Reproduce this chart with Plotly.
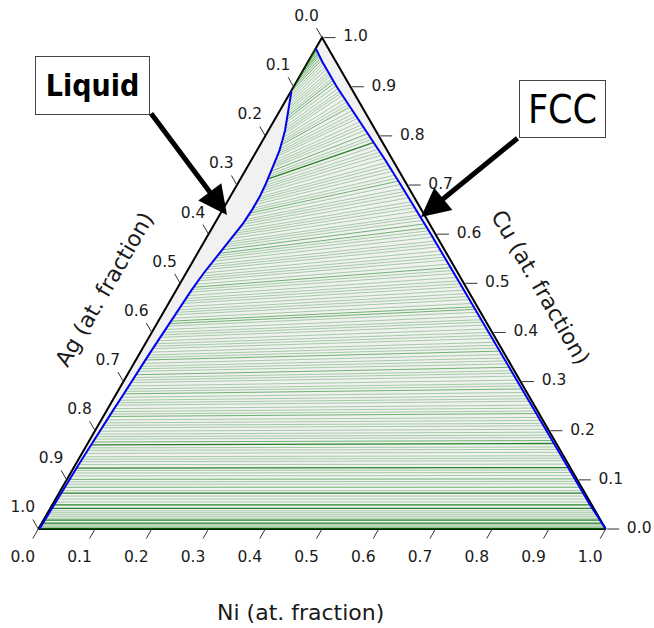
import numpy as np
import plotly.graph_objects as go

# ---------------- data (compositions, at. fraction) ----------------
# Liquid phase boundary: Cu fraction and Ni fraction
liq_cu = [0.890, 0.870, 0.853, 0.830, 0.812, 0.790, 0.770, 0.750, 0.730, 0.700,
          0.676, 0.650, 0.622, 0.600, 0.575, 0.547, 0.520, 0.486, 0.450, 0.425,
          0.400, 0.364, 0.330, 0.303, 0.270, 0.242, 0.210, 0.181, 0.150, 0.120,
          0.090, 0.059, 0.030, 0.000]
liq_ni = [0.001, 0.008, 0.014, 0.022, 0.029, 0.035, 0.040, 0.043, 0.046, 0.050,
          0.052, 0.052, 0.050, 0.046, 0.041, 0.035, 0.031, 0.027, 0.024, 0.022,
          0.020, 0.018, 0.016, 0.015, 0.013, 0.011, 0.009, 0.0076, 0.0065, 0.0053,
          0.0045, 0.0035, 0.0028, 0.002]

# FCC phase boundary: Cu fraction and Ag fraction
fcc_cu = [0.978, 0.950, 0.900, 0.850, 0.800, 0.750, 0.700, 0.650, 0.600, 0.500,
          0.400, 0.300, 0.200, 0.100, 0.050, 0.000]
fcc_ag = [0.022, 0.024, 0.024, 0.020, 0.016, 0.013, 0.011, 0.009, 0.008, 0.007,
          0.006, 0.006, 0.005, 0.004, 0.003, 0.000]

# Tie lines: liquid end (Cu, Ni) and FCC end (Cu, Ag)
tie_liq_cu = [0.974, 0.966, 0.957, 0.948, 0.938, 0.928, 0.918, 0.908, 0.899, 0.892,
              0.884, 0.873, 0.860, 0.850, 0.839, 0.827, 0.814, 0.804, 0.791, 0.781,
              0.768, 0.758, 0.745, 0.735, 0.722, 0.712, 0.699, 0.689, 0.676, 0.666,
              0.653, 0.643, 0.630, 0.620, 0.607, 0.597, 0.584, 0.574, 0.561, 0.551,
              0.538, 0.528, 0.515, 0.505, 0.492, 0.482, 0.469, 0.459, 0.446, 0.436,
              0.423, 0.413, 0.400, 0.390, 0.377, 0.367, 0.354, 0.344, 0.331, 0.321,
              0.308, 0.298, 0.285, 0.275, 0.262, 0.252, 0.239, 0.229, 0.216, 0.206,
              0.193, 0.183, 0.171, 0.160, 0.147, 0.137, 0.124, 0.114, 0.101, 0.091,
              0.078, 0.073, 0.061, 0.049, 0.042, 0.033, 0.025, 0.018, 0.012, 0.006, 0.001,
              0.879, 0.867, 0.855, 0.844, 0.833, 0.820, 0.809, 0.797, 0.786, 0.774,
              0.763, 0.751, 0.740, 0.728, 0.717, 0.705, 0.694, 0.683, 0.671, 0.660,
              0.648, 0.637, 0.625, 0.614, 0.602, 0.591, 0.579, 0.568, 0.556, 0.545,
              0.533, 0.521, 0.510, 0.498, 0.487, 0.475, 0.464, 0.452, 0.441, 0.429,
              0.418, 0.406, 0.395, 0.383, 0.372, 0.360, 0.349, 0.337, 0.326, 0.314,
              0.303, 0.291, 0.280, 0.268, 0.257, 0.245, 0.234, 0.222, 0.211, 0.199,
              0.188, 0.177, 0.165, 0.154, 0.142, 0.131, 0.119, 0.108, 0.096, 0.085,
              0.067, 0.055, 0.037, 0.029, 0.021, 0.009, 0.004]
tie_liq_ni = [0.0, 0.0, 0.0, 0.0, 0.0, 0.0, 0.0, 0.0, 0.0, 0.001,
              0.003, 0.007, 0.011, 0.015, 0.019, 0.023, 0.028, 0.031, 0.035, 0.037,
              0.040, 0.042, 0.044, 0.045, 0.047, 0.048, 0.050, 0.051, 0.052, 0.052,
              0.052, 0.052, 0.051, 0.050, 0.047, 0.045, 0.043, 0.041, 0.038, 0.036,
              0.034, 0.032, 0.030, 0.029, 0.028, 0.027, 0.025, 0.025, 0.024, 0.023,
              0.022, 0.021, 0.020, 0.019, 0.019, 0.018, 0.017, 0.017, 0.016, 0.016,
              0.015, 0.015, 0.014, 0.013, 0.012, 0.012, 0.011, 0.010, 0.010, 0.009,
              0.008, 0.008, 0.007, 0.007, 0.006, 0.006, 0.005, 0.005, 0.005, 0.005,
              0.004, 0.004, 0.004, 0.003, 0.003, 0.003, 0.003, 0.003, 0.002, 0.002, 0.002,
              0.005, 0.009, 0.013, 0.017, 0.021, 0.026, 0.030, 0.033, 0.036, 0.039,
              0.041, 0.043, 0.045, 0.046, 0.048, 0.049, 0.050, 0.051, 0.052, 0.052,
              0.052, 0.051, 0.050, 0.049, 0.046, 0.044, 0.042, 0.040, 0.037, 0.035,
              0.033, 0.031, 0.030, 0.028, 0.027, 0.026, 0.025, 0.024, 0.024, 0.022,
              0.021, 0.021, 0.020, 0.019, 0.018, 0.018, 0.017, 0.016, 0.016, 0.015,
              0.015, 0.014, 0.014, 0.013, 0.012, 0.011, 0.010, 0.010, 0.009, 0.008,
              0.008, 0.007, 0.007, 0.007, 0.006, 0.006, 0.005, 0.005, 0.005, 0.004,
              0.004, 0.003, 0.003, 0.003, 0.003, 0.002, 0.002]
tie_fcc_cu = [0.978, 0.977, 0.975, 0.973, 0.971, 0.968, 0.965, 0.962, 0.958, 0.954,
              0.950, 0.941, 0.930, 0.922, 0.913, 0.902, 0.891, 0.882, 0.869, 0.859,
              0.846, 0.836, 0.823, 0.812, 0.798, 0.787, 0.773, 0.761, 0.746, 0.734,
              0.720, 0.708, 0.693, 0.681, 0.666, 0.654, 0.639, 0.628, 0.613, 0.601,
              0.586, 0.574, 0.559, 0.547, 0.532, 0.520, 0.505, 0.493, 0.479, 0.467,
              0.452, 0.441, 0.426, 0.415, 0.400, 0.388, 0.374, 0.362, 0.348, 0.336,
              0.322, 0.311, 0.296, 0.285, 0.271, 0.260, 0.246, 0.235, 0.221, 0.210,
              0.197, 0.186, 0.174, 0.162, 0.149, 0.139, 0.125, 0.115, 0.102, 0.092,
              0.078, 0.073, 0.061, 0.049, 0.042, 0.033, 0.025, 0.018, 0.012, 0.006, 0.001,
              0.946, 0.936, 0.926, 0.917, 0.908, 0.896, 0.887, 0.875, 0.864, 0.852,
              0.841, 0.829, 0.818, 0.805, 0.793, 0.780, 0.767, 0.754, 0.740, 0.728,
              0.714, 0.701, 0.687, 0.674, 0.660, 0.647, 0.634, 0.621, 0.607, 0.594,
              0.580, 0.566, 0.553, 0.539, 0.526, 0.512, 0.499, 0.486, 0.473, 0.459,
              0.447, 0.433, 0.421, 0.407, 0.394, 0.380, 0.368, 0.355, 0.342, 0.329,
              0.317, 0.303, 0.291, 0.278, 0.265, 0.252, 0.240, 0.227, 0.215, 0.203,
              0.191, 0.180, 0.167, 0.156, 0.144, 0.132, 0.120, 0.109, 0.097, 0.085,
              0.067, 0.055, 0.037, 0.029, 0.021, 0.009, 0.004]
tie_fcc_ag = [0.022, 0.022, 0.023, 0.023, 0.023, 0.023, 0.024, 0.024, 0.024, 0.024,
              0.024, 0.024, 0.024, 0.024, 0.024, 0.024, 0.023, 0.023, 0.022, 0.021,
              0.020, 0.019, 0.018, 0.017, 0.016, 0.015, 0.014, 0.014, 0.013, 0.012,
              0.012, 0.011, 0.011, 0.010, 0.010, 0.009, 0.009, 0.009, 0.008, 0.008,
              0.008, 0.008, 0.008, 0.008, 0.007, 0.007, 0.007, 0.007, 0.007, 0.007,
              0.007, 0.006, 0.006, 0.006, 0.006, 0.006, 0.006, 0.006, 0.006, 0.006,
              0.006, 0.006, 0.006, 0.006, 0.006, 0.005, 0.005, 0.005, 0.005, 0.005,
              0.005, 0.005, 0.005, 0.005, 0.005, 0.004, 0.004, 0.004, 0.004, 0.004,
              0.003, 0.003, 0.003, 0.003, 0.003, 0.002, 0.002, 0.002, 0.001, 0.001, 0.0,
              0.024, 0.024, 0.024, 0.024, 0.024, 0.024, 0.023, 0.022, 0.021, 0.020,
              0.019, 0.018, 0.017, 0.016, 0.016, 0.015, 0.014, 0.013, 0.013, 0.012,
              0.011, 0.011, 0.010, 0.010, 0.009, 0.009, 0.009, 0.008, 0.008, 0.008,
              0.008, 0.008, 0.008, 0.007, 0.007, 0.007, 0.007, 0.007, 0.007, 0.007,
              0.007, 0.006, 0.006, 0.006, 0.006, 0.006, 0.006, 0.006, 0.006, 0.006,
              0.006, 0.006, 0.006, 0.006, 0.006, 0.005, 0.005, 0.005, 0.005, 0.005,
              0.005, 0.005, 0.005, 0.005, 0.005, 0.004, 0.004, 0.004, 0.004, 0.004,
              0.003, 0.003, 0.002, 0.002, 0.002, 0.001, 0.001]

tick_vals = [0.0, 0.1, 0.2, 0.3, 0.4, 0.5, 0.6, 0.7, 0.8, 0.9, 1.0]
tick_text = ["0.0", "0.1", "0.2", "0.3", "0.4", "0.5", "0.6", "0.7", "0.8", "0.9", "1.0"]

axis_titles = {"Ni": "Ni (at. fraction)", "Ag": "Ag (at. fraction)", "Cu": "Cu (at. fraction)"}

# ---------------- style / geometry ----------------
DARK_TIES = {25, 72, 76, 81, 83, 84, 87, 88, 90}
MID_TIES = {0, 1, 2, 3, 4, 5, 6, 7, 8, 9, 14, 19, 31, 38, 44, 50, 57, 63, 67, 78,
            95, 104, 118, 131, 140, 152, 160}

W, H = 654, 628
PX = 567.4                 # pixels per unit of the Cartesian ternary frame
X0, Y0 = 38.3, 529.0       # bottom-left vertex, pixels
S3 = np.sqrt(3) / 2


def to_xy(ni, cu):
    ni = np.asarray(ni, float)
    cu = np.asarray(cu, float)
    return ni + cu / 2.0, cu * S3


def pxd(dx, dy):
    """pixel offset -> data offset"""
    return dx / PX, -dy / PX


def px(xp, yp):
    """pixel position -> data position"""
    return (xp - X0) / PX, (Y0 - yp) / PX


fig = go.Figure()

# triangle background
tx, ty = to_xy([0, 1, 0, 0], [0, 0, 1, 0])
fig.add_trace(go.Scatter(x=tx, y=ty, mode="lines", fill="toself",
                         fillcolor="#f1f1f1", line=dict(width=0),
                         hoverinfo="skip", showlegend=False))
# triangle edges
fig.add_trace(go.Scatter(x=tx, y=ty, mode="lines",
                         line=dict(color="black", width=2),
                         hoverinfo="skip", showlegend=False))

# tie lines
lx, ly = to_xy(tie_liq_ni, tie_liq_cu)
fcc_ni_t = 1 - np.asarray(tie_fcc_cu) - np.asarray(tie_fcc_ag)
sx, sy = to_xy(fcc_ni_t, tie_fcc_cu)
groups = {"light": ([], [], "rgba(0,128,0,0.33)", 1.0),
          "mid": ([], [], "rgba(0,128,0,0.55)", 1.0),
          "dark": ([], [], "rgba(0,110,0,0.85)", 1.3)}
for i in range(len(tie_liq_cu)):
    g = "dark" if i in DARK_TIES else ("mid" if i in MID_TIES else "light")
    groups[g][0].extend([lx[i], sx[i], None])
    groups[g][1].extend([ly[i], sy[i], None])
for g in ["light", "mid", "dark"]:
    xs, ys, col, wd = groups[g]
    fig.add_trace(go.Scatter(x=xs, y=ys, mode="lines", line=dict(color=col, width=wd),
                             hoverinfo="skip", showlegend=False))

# phase boundaries
bx, by = to_xy(liq_ni, liq_cu)
fig.add_trace(go.Scatter(x=bx, y=by, mode="lines", line=dict(color="#0000ee", width=2),
                         hoverinfo="skip", showlegend=False))
fcc_ni = 1 - np.asarray(fcc_cu) - np.asarray(fcc_ag)
fx, fy = to_xy(fcc_ni, fcc_cu)
fig.add_trace(go.Scatter(x=fx, y=fy, mode="lines", line=dict(color="#0000ee", width=2),
                         hoverinfo="skip", showlegend=False))

# ticks and tick labels
tv = np.asarray(tick_vals)
L = 11.0
bxp, byp = to_xy(tv, np.zeros_like(tv))          # bottom (Ni)
rxp, ryp = to_xy(1 - tv, tv)                     # right (Cu)
lxp, lyp = to_xy(np.zeros_like(tv), 1 - tv)      # left (Ag)

tick_x, tick_y = [], []
d_b = pxd(-0.5 * L, 0.866 * L)
d_r = pxd(L + 1, 0)
d_l = pxd(-0.5 * L, -0.866 * L)
for xs_, ys_, d, s in [(bxp, byp, d_b, (0, 0)), (rxp, ryp, d_r, pxd(1.5, 0)),
                       (lxp, lyp, d_l, (0, 0))]:
    for a, b in zip(xs_, ys_):
        tick_x.extend([a + s[0], a + s[0] + d[0], None])
        tick_y.extend([b + s[1], b + s[1] + d[1], None])
fig.add_trace(go.Scatter(x=tick_x, y=tick_y, mode="lines",
                         line=dict(color="#333333", width=1),
                         hoverinfo="skip", showlegend=False))

lab_font = dict(family="DejaVu Sans", size=15.5, color="#1a1a1a")
for xs_, ys_, off in [(bxp, byp, pxd(-15.5, 29)), (rxp, ryp, pxd(33.5, 0)),
                      (lxp, lyp, pxd(-15.5, -20.5))]:
    fig.add_trace(go.Scatter(x=xs_ + off[0], y=ys_ + off[1], mode="text",
                             text=tick_text, textposition="middle center",
                             textfont=lab_font, hoverinfo="skip", showlegend=False,
                             cliponaxis=False))

title_font = dict(family="DejaVu Sans", size=22, color="#1a1a1a")
ann = []
for name, (cx, cy), ang in [("Ni", (300, 612), 0), ("Ag", (104, 289), -60),
                            ("Cu", (541, 287), 60)]:
    ax_, ay_ = px(cx, cy)
    ann.append(dict(x=ax_, y=ay_, xref="x", yref="y", text=axis_titles[name],
                    showarrow=False, textangle=ang, font=title_font,
                    xanchor="center", yanchor="middle"))

# phase label boxes
box_font = "Liberation Sans Narrow, DejaVu Sans Condensed, Arial Narrow, sans-serif"
for text, (cx, cy), (bw, bh), bold, fs in [
        ("Liquid", (92, 85), (113, 57), True, 30),
        ("FCC", (562, 109), (85, 56), False, 39)]:
    ax_, ay_ = px(cx, cy)
    ann.append(dict(x=ax_, y=ay_, xref="x", yref="y",
                    text=f"<b>{text}</b>" if bold else text,
                    showarrow=False, width=bw, height=bh, bgcolor="white",
                    bordercolor="#444444", borderwidth=1, borderpad=0,
                    font=dict(family=box_font, size=fs, color="black"),
                    xanchor="center", yanchor="middle", valign="middle"))

# arrows
for (sxp, syp), (exp_, eyp) in [((150, 112), (227, 215)), ((519, 137), (421, 217))]:
    x1, y1 = px(exp_, eyp)
    x0, y0 = px(sxp, syp)
    ann.append(dict(x=x1, y=y1, ax=x0, ay=y0, xref="x", yref="y", axref="x", ayref="y",
                    text="", showarrow=True, arrowhead=2, arrowsize=1.15,
                    arrowwidth=5, arrowcolor="black", standoff=0, startstandoff=0))

fig.update_layout(
    width=W, height=H, autosize=False,
    margin=dict(l=0, r=0, t=0, b=0),
    paper_bgcolor="white", plot_bgcolor="white",
    xaxis=dict(range=[(0 - X0) / PX, (W - X0) / PX], visible=False, fixedrange=True),
    yaxis=dict(range=[(Y0 - H) / PX, Y0 / PX], visible=False, fixedrange=True),
    annotations=ann,
    showlegend=False,
)

fig.write_html("out.html",
               config={"displayModeBar": False},
               post_script="document.body.style.margin='0';"
                           "document.body.style.overflow='hidden';")
